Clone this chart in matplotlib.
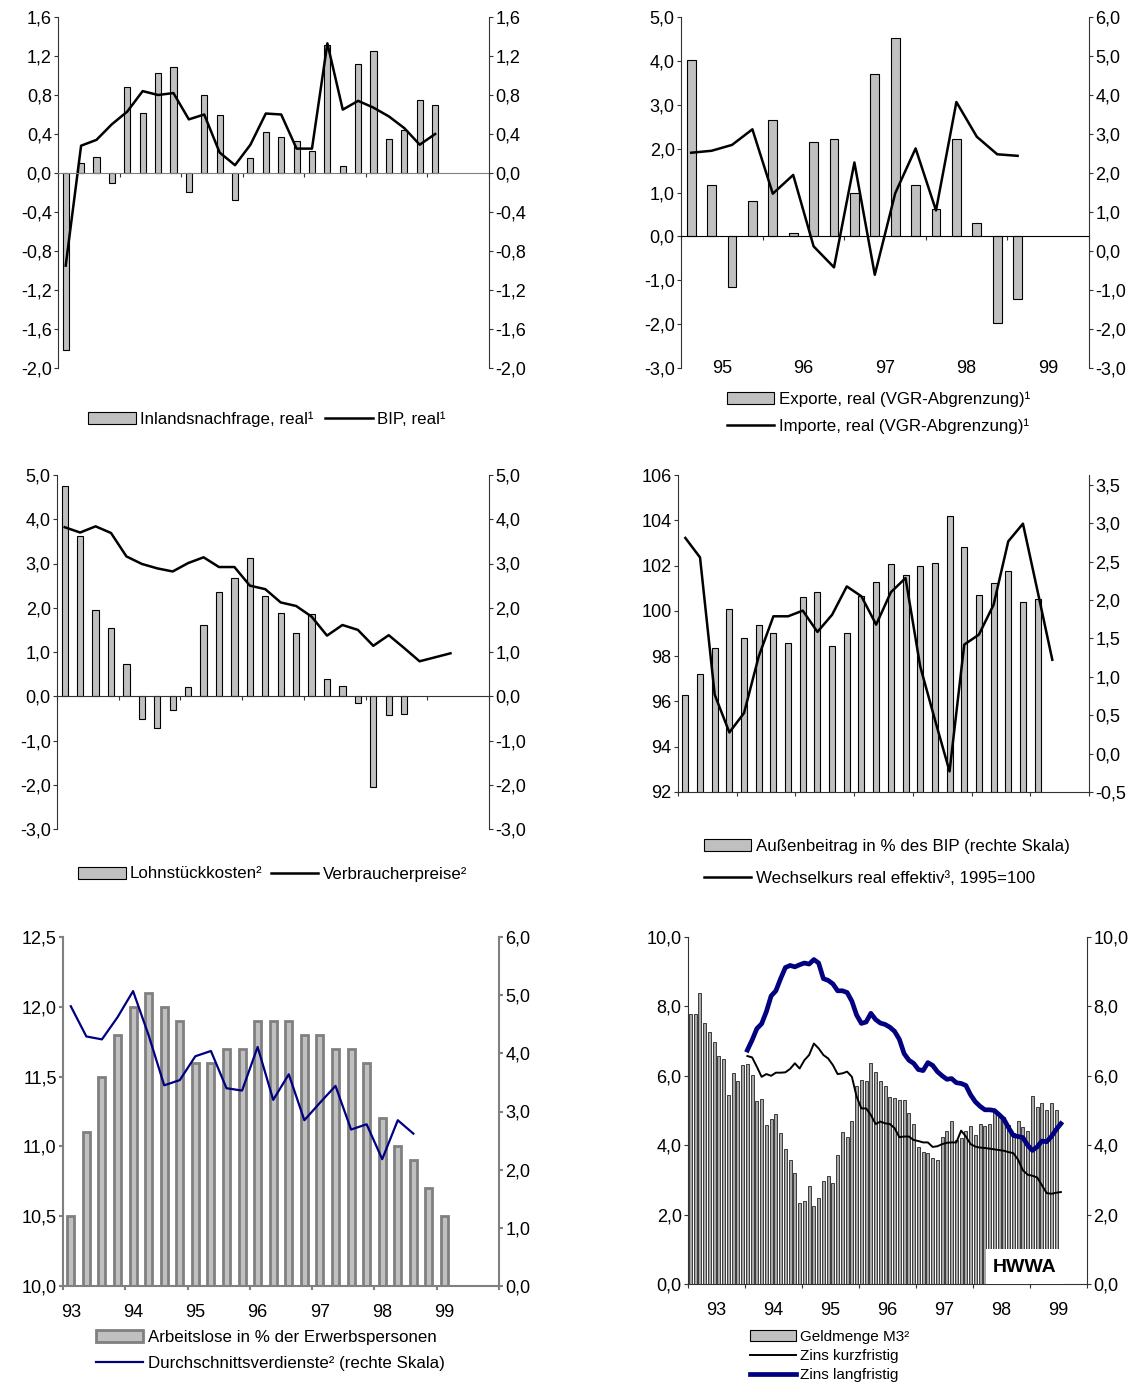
import numpy as np
import matplotlib.pyplot as plt
from matplotlib.patches import Rectangle
from matplotlib.lines import Line2D
from matplotlib.ticker import FuncFormatter

plt.rcParams['font.family'] = ['Liberation Sans', 'DejaVu Sans']

# --- Daten ---
# Panel 1: Quartale 92-98
inland = [-1.82, 0.10, 0.16, -0.10, 0.88, 0.62, 1.03, 1.09, -0.19, 0.80, 0.60, -0.28, 0.15,
          0.42, 0.37, 0.33, 0.23, 1.31, 0.07, 1.12, 1.25, 0.35, 0.44, 0.75, 0.70]
bip = [-0.95, 0.28, 0.34, 0.50, 0.63, 0.84, 0.80, 0.82, 0.55, 0.60, 0.21, 0.08, 0.29,
       0.61, 0.60, 0.25, 0.25, 1.33, 0.65, 0.74, 0.67, 0.58, 0.46, 0.29, 0.40]

# Panel 2: Quartale 95-99
jahre2 = ['95', '96', '97', '98', '99']
exporte = [4.02, 1.17, -1.16, 0.80, 2.66, 0.08, 2.16, 2.21, 0.98, 3.71, 4.52, 1.16, 0.63,
           2.22, 0.31, -1.97, -1.43]
importe = [2.52, 2.57, 2.72, 3.12, 1.47, 1.95, 0.12, -0.42, 2.27, -0.61, 1.48, 2.63, 1.04,
           3.82, 2.93, 2.48, 2.44]

# Panel 3
lohn = [4.75, 3.63, 1.94, 1.55, 0.72, -0.51, -0.71, -0.32, 0.22, 1.60, 2.35, 2.67, 3.12,
        2.26, 1.88, 1.44, 1.85, 0.40, 0.24, -0.15, -2.05, -0.43, -0.41]
vpi = [3.82, 3.70, 3.84, 3.69, 3.16, 2.99, 2.89, 2.82, 3.01, 3.14, 2.92, 2.92, 2.50,
       2.42, 2.12, 2.04, 1.80, 1.37, 1.61, 1.50, 1.14, 1.38, 1.09, 0.79, 0.88, 0.97]

# Panel 4
aussen = [0.76, 1.04, 1.37, 1.88, 1.51, 1.68, 1.57, 1.44, 2.04, 2.10, 1.40, 1.57, 2.05,
          2.24, 2.47, 2.33, 2.44, 2.49, 3.09, 2.69, 2.07, 2.22, 2.38, 1.98, 2.01]
wechsel = [103.22, 102.36, 96.30, 94.63, 95.49, 97.99, 99.76, 99.76, 100.01, 99.07, 99.83,
           101.08, 100.64, 99.39, 100.82, 101.45, 97.55, 95.2, 92.91, 98.51, 98.95, 100.27,
           103.07, 103.85, 100.86, 97.84]

# Panel 5: Quartale 93-99
jahre5 = ['93', '94', '95', '96', '97', '98', '99']
alo = [10.5, 11.1, 11.5, 11.8, 12.0, 12.1, 12.0, 11.9, 11.6, 11.6, 11.7, 11.7, 11.9, 11.9,
       11.9, 11.8, 11.8, 11.7, 11.7, 11.6, 11.2, 11.0, 10.9, 10.7, 10.5]
verdienst = [4.81, 4.29, 4.24, 4.62, 5.07, 4.31, 3.45, 3.54, 3.95, 4.04, 3.40, 3.36, 4.11,
             3.20, 3.64, 2.85, 3.15, 3.44, 2.69, 2.78, 2.18, 2.85, 2.62]

# Panel 6: Monate ab Jan 93, Zinsen ab Jan 94
m3 = [7.77, 7.77, 8.40, 7.51, 7.25, 6.96, 6.57, 6.47, 5.45, 6.07, 5.85, 6.30,
      6.34, 6.03, 5.27, 5.32, 4.57, 4.75, 4.89, 4.34, 3.89, 3.57, 3.21, 2.33,
      2.40, 2.83, 2.25, 2.47, 2.97, 3.12, 2.91, 3.71, 4.37, 4.24, 4.69, 5.71,
      5.87, 5.84, 6.36, 6.12, 5.86, 5.70, 5.40, 5.36, 5.30, 5.30, 4.94, 4.60,
      3.96, 3.80, 3.77, 3.64, 3.56, 4.23, 4.41, 4.70, 4.15, 4.20, 4.42, 4.55,
      4.30, 4.60, 4.54, 4.61, 4.97, 4.89, 4.80, 4.58, 4.34, 4.70, 4.52, 4.41,
      5.42, 5.11, 5.23, 5.01, 5.23, 5.01]
zins_kurz = [6.57, 6.53, 6.26, 5.97, 6.05, 6.00, 6.09, 6.09, 6.10, 6.20, 6.36, 6.21,
             6.45, 6.60, 6.93, 6.79, 6.60, 6.50, 6.31, 6.05, 6.07, 6.12, 5.97, 5.40,
             5.06, 5.06, 4.87, 4.61, 4.68, 4.63, 4.61, 4.49, 4.23, 4.25, 4.25, 4.15,
             4.12, 4.08, 4.08, 3.95, 3.97, 4.03, 4.07, 4.08, 4.08, 4.42, 4.25, 4.03,
             3.96, 3.93, 3.92, 3.90, 3.88, 3.86, 3.84, 3.80, 3.77, 3.58, 3.28, 3.15,
             3.12, 3.07, 2.85, 2.62, 2.60, 2.63, 2.65]
zins_lang = [6.74, 7.03, 7.36, 7.50, 7.85, 8.30, 8.45, 8.80, 9.12, 9.18, 9.14, 9.20,
             9.25, 9.22, 9.35, 9.25, 8.80, 8.75, 8.65, 8.45, 8.45, 8.40, 8.15, 7.75,
             7.51, 7.55, 7.80, 7.62, 7.52, 7.48, 7.40, 7.28, 7.05, 6.64, 6.45, 6.36,
             6.18, 6.15, 6.38, 6.30, 6.12, 6.00, 5.90, 5.92, 5.80, 5.78, 5.72, 5.45,
             5.25, 5.12, 5.02, 5.02, 5.00, 4.88, 4.75, 4.50, 4.28, 4.25, 4.22, 4.00,
             3.85, 3.95, 4.12, 4.10, 4.25, 4.45, 4.62]

W, H = 1147, 1385
fig = plt.figure(figsize=(W / 100, H / 100), dpi=100)
GRAU = '#c0c0c0'
NAVY = '#000080'
FS = 13
LFS = 12.2


def fmt(dec):
    return FuncFormatter(lambda v, p: f'{round(v, 3) + 0.0:.{dec}f}'.replace('.', ','))


def panel(l, r, t, b, col='#333333', lw=0.8):
    ax = fig.add_axes([l / W, 1 - b / H, (r - l) / W, (b - t) / H])
    ax2 = ax.twinx()
    for s in ['top', 'right']:
        ax.spines[s].set_visible(False)
    for s in ['top', 'left', 'bottom']:
        ax2.spines[s].set_visible(False)
    for a in (ax, ax2):
        for s in a.spines.values():
            s.set_color(col)
            s.set_linewidth(lw)
        a.tick_params(axis='both', direction='out', length=3, width=lw, pad=1.5,
                      labelsize=FS, color=col)
    return ax, ax2


def mitte(n):
    return np.arange(n) + 0.5


bar_h = Rectangle((0, 0), 1, 1, facecolor=GRAU, edgecolor='black', linewidth=0.8)
line_h = Line2D([], [], color='black', lw=1.8)
leg_kw = dict(frameon=False, handlelength=2.8, handletextpad=0.25,
              borderpad=0, borderaxespad=0)

# ---------- Panel 1 ----------
ax, ax2 = panel(58, 489, 17, 368)
ax.bar(mitte(len(inland)), inland, width=0.4, color=GRAU, edgecolor='black', linewidth=0.8)
ax.plot(mitte(len(bip)), bip, color='black', lw=1.8)
ax.set_xlim(0, 28)
for a in (ax, ax2):
    a.set_ylim(-2.0, 1.6)
    a.set_yticks(np.linspace(-2.0, 1.6, 10))
    a.yaxis.set_major_formatter(fmt(1))
ax.spines['bottom'].set_position(('data', 0))
ax.spines['bottom'].set_color('#808080')
ax.set_xticks(range(0, 29, 4))
ax.set_xticklabels([])
fig.legend([bar_h, line_h], ['Inlandsnachfrage, real¹', 'BIP, real¹'], loc='center',
           bbox_to_anchor=(267 / W, 1 - 419 / H), ncol=2, columnspacing=0.7,
           fontsize=LFS, **leg_kw)

# ---------- Panel 2 ----------
ax, ax2 = panel(681, 1089, 17, 368)
ax.bar(mitte(len(exporte)), exporte, width=0.43, color=GRAU, edgecolor='black', linewidth=0.8)
ax2.plot(mitte(len(importe)), importe, color='black', lw=1.8)
ax.set_xlim(0, 20)
ax.set_ylim(-3, 5)
ax.set_yticks(range(-3, 6))
ax2.set_ylim(-3, 6)
ax2.set_yticks(range(-3, 7))
ax.yaxis.set_major_formatter(fmt(1))
ax2.yaxis.set_major_formatter(fmt(1))
ax.spines['bottom'].set_position(('data', 0))
ax.spines['bottom'].set_color('black')
ax.set_xticks(range(0, 21, 4))
ax.set_xticklabels([])
for i, j in enumerate(jahre2):
    ax.text(4 * i + 2, -3.02, j, ha='center', va='center', fontsize=FS)
fig.legend([bar_h, line_h], ['Exporte, real (VGR-Abgrenzung)¹', 'Importe, real (VGR-Abgrenzung)¹'],
           loc='center left', bbox_to_anchor=(727 / W, 1 - 412.5 / H), labelspacing=0.7,
           fontsize=LFS, **leg_kw)

# ---------- Panel 3 ----------
ax, ax2 = panel(57, 489, 475, 829)
ax.bar(mitte(len(lohn)), lohn, width=0.4, color=GRAU, edgecolor='black', linewidth=0.8)
ax.plot(mitte(len(vpi)), vpi, color='black', lw=1.8)
ax.set_xlim(0, 28)
for a in (ax, ax2):
    a.set_ylim(-3, 5)
    a.set_yticks(range(-3, 6))
    a.yaxis.set_major_formatter(fmt(1))
ax.spines['bottom'].set_position(('data', 0))
ax.spines['bottom'].set_color('#333333')
ax.set_xticks(range(0, 29, 4))
ax.set_xticklabels([])
fig.legend([bar_h, line_h], ['Lohnstückkosten²', 'Verbraucherpreise²'], loc='center',
           bbox_to_anchor=(272.5 / W, 1 - 874 / H), ncol=2, columnspacing=0.5,
           fontsize=LFS, **leg_kw)

# ---------- Panel 4 ----------
ax, ax2 = panel(678, 1089, 475, 792)
r_unten = -0.5
ax2.bar(mitte(len(aussen)), np.array(aussen) - r_unten, bottom=r_unten, width=0.41,
        color=GRAU, edgecolor='black', linewidth=0.8)
ax.plot(mitte(len(wechsel)), wechsel, color='black', lw=1.8)
ax.set_zorder(ax2.get_zorder() + 1)
ax.patch.set_visible(False)
ax.set_xlim(0, 28)
ax.set_ylim(92, 106)
ax.set_yticks(range(92, 107, 2))
ax2.set_ylim(r_unten, 3.63)
ax2.set_yticks(np.linspace(-0.5, 3.5, 9))
ax2.yaxis.set_major_formatter(fmt(1))
ax.set_xticks(range(0, 29, 4))
ax.set_xticklabels([])
fig.legend([bar_h, line_h], ['Außenbeitrag in % des BIP (rechte Skala)',
                             'Wechselkurs real effektiv³, 1995=100'],
           loc='center left', bbox_to_anchor=(704 / W, 1 - 862.5 / H), labelspacing=1.05,
           fontsize=LFS, **leg_kw)

# ---------- Panel 5 ----------
ax, ax2 = panel(63, 499, 937, 1286, col='#808080', lw=1.5)
ax.bar(mitte(len(alo)), alo, width=0.45, color=GRAU, edgecolor='#808080', linewidth=2)
ax2.plot(mitte(len(verdienst)), verdienst, color=NAVY, lw=1.6)
ax.set_xlim(0, 28)
ax.set_ylim(10, 12.5)
ax.set_yticks(np.linspace(10, 12.5, 6))
ax.yaxis.set_major_formatter(fmt(1))
ax2.set_ylim(0, 6)
ax2.set_yticks(range(0, 7))
ax2.yaxis.set_major_formatter(fmt(1))
ax.set_xticks(range(0, 29, 4))
ax.set_xticklabels([])
ax.set_xticks(np.arange(len(jahre5)) * 4 + 0.5, minor=True)
ax.set_xticklabels(jahre5, minor=True)
ax.tick_params(axis='x', which='minor', length=0, pad=13, labelsize=FS)
bar5 = Rectangle((0, 0), 1, 1, facecolor=GRAU, edgecolor='#808080', linewidth=2)
fig.legend([bar5, Line2D([], [], color=NAVY, lw=1.6)],
           ['Arbeitslose in % der Erwerbspersonen', 'Durchschnittsverdienste² (rechte Skala)'],
           loc='center left', bbox_to_anchor=(96 / W, 1 - 1350.5 / H), labelspacing=0.7,
           fontsize=LFS, **leg_kw)

# ---------- Panel 6 ----------
ax, ax2 = panel(688, 1087, 937, 1284)
ax.bar(mitte(len(m3)), m3, width=0.6, color='#a8a8a8', edgecolor='black', linewidth=0.5)
xz = np.arange(12, 12 + len(zins_kurz)) + 0.5
ax.plot(xz, zins_kurz, color='black', lw=1.4)
ax.plot(xz, zins_lang, color=NAVY, lw=3.4)
ax.set_xlim(0, 84)
for a in (ax, ax2):
    a.set_ylim(0, 10)
    a.set_yticks(range(0, 11, 2))
    a.yaxis.set_major_formatter(fmt(1))
ax.set_xticks(range(0, 85, 12))
ax.set_xticklabels([])
ax.set_xticks(np.arange(len(jahre5)) * 12 + 6, minor=True)
ax.set_xticklabels(jahre5, minor=True)
ax.tick_params(axis='x', which='minor', length=0, pad=13, labelsize=FS)
fig.add_artist(Rectangle((986 / W, 1 - 1284 / H), 78 / W, 35 / H, transform=fig.transFigure,
                         facecolor='white', edgecolor='none', zorder=5))
fig.text(1025 / W, 1 - 1267 / H, 'HWWA', ha='center', va='center', fontsize=14,
         fontweight='bold', zorder=6)
fig.legend([bar_h, Line2D([], [], color='black', lw=1.4), Line2D([], [], color=NAVY, lw=3.4)],
           ['Geldmenge M3²', 'Zins kurzfristig', 'Zins langfristig'],
           loc='center left', bbox_to_anchor=(750 / W, 1 - 1356 / H), labelspacing=0.33,
           fontsize=11, handlelength=3.0, handletextpad=0.3, frameon=False,
           borderpad=0, borderaxespad=0)

fig.savefig('out.png', dpi=100)
